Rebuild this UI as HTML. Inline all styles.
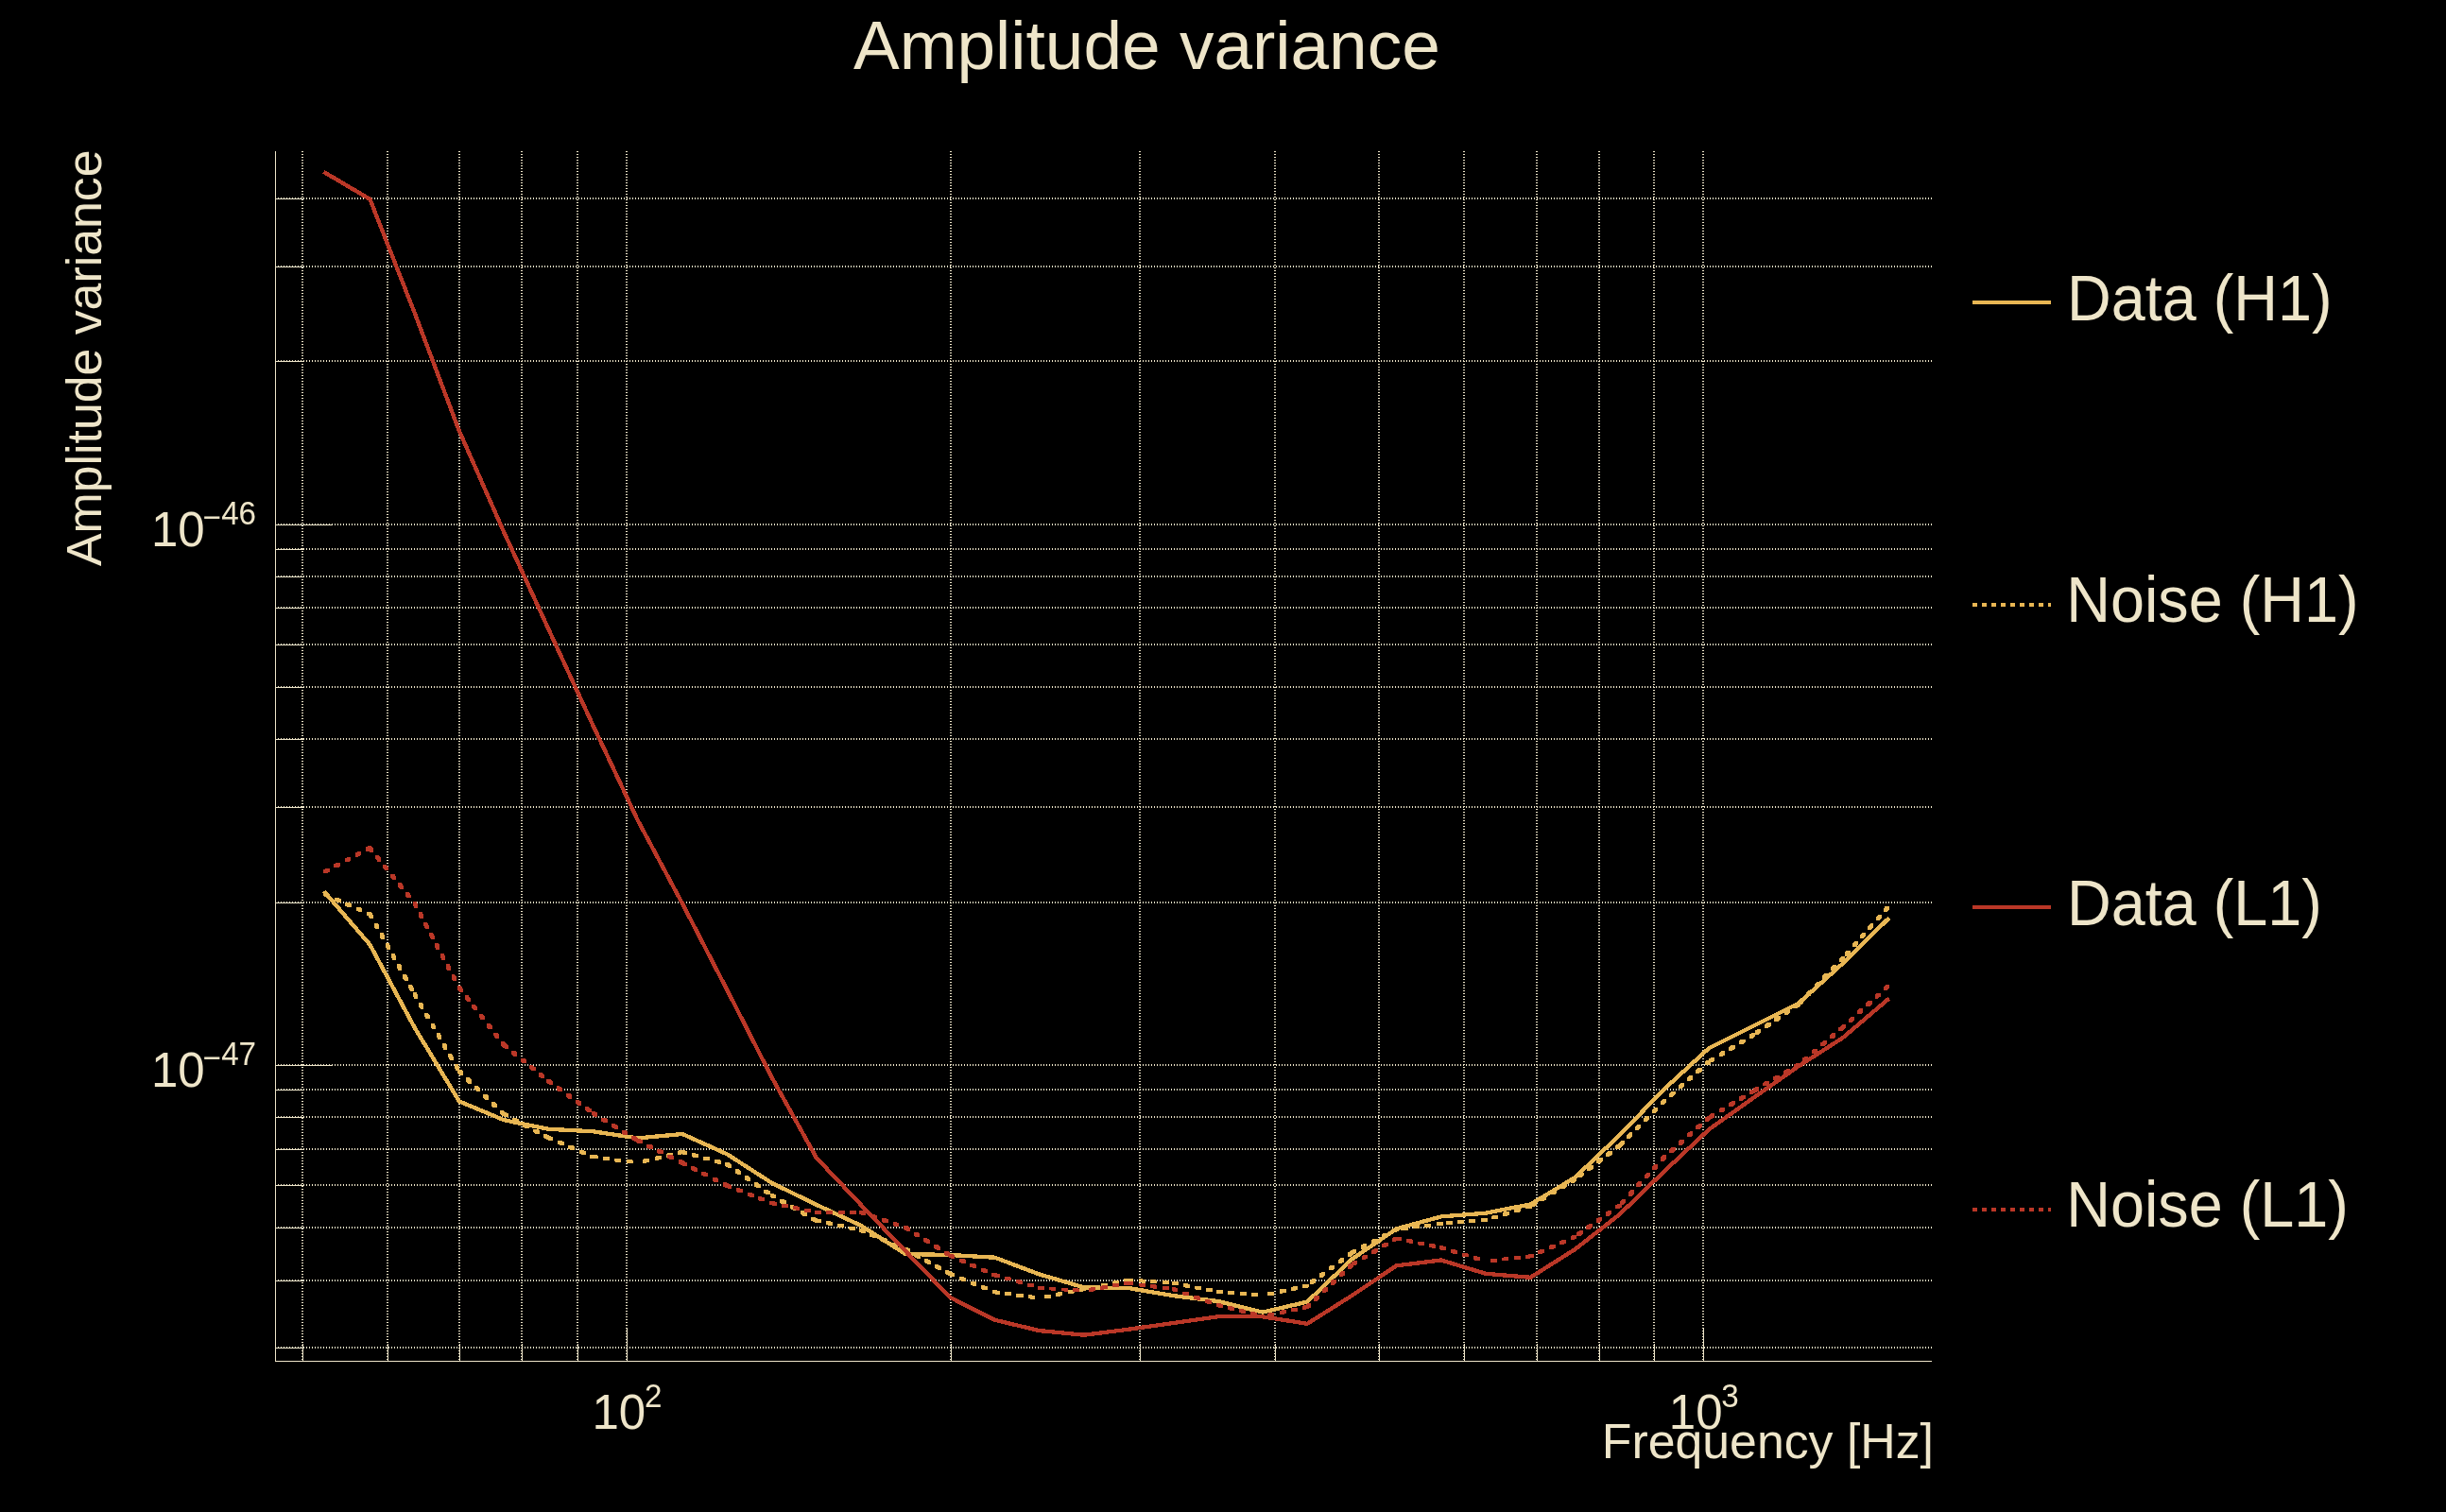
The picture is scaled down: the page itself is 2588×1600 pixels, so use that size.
<!DOCTYPE html>
<html lang="en"><head><meta charset="utf-8"><title>Amplitude variance</title>
<style>
html,body{margin:0;padding:0;background:#000;}
body{width:2588px;height:1600px;overflow:hidden;}
svg{display:block;}
text{font-family:"Liberation Sans",sans-serif;fill:#eee5c9;}
</style></head><body>
<svg width="2588" height="1600" viewBox="0 0 2588 1600">
<rect width="2588" height="1600" fill="#000"/>
<g stroke="#eee5c9" stroke-width="2" stroke-dasharray="1 2" shape-rendering="crispEdges" fill="none">
<line x1="320" y1="160" x2="320" y2="1440"/>
<line x1="410" y1="160" x2="410" y2="1440"/>
<line x1="486" y1="160" x2="486" y2="1440"/>
<line x1="552" y1="160" x2="552" y2="1440"/>
<line x1="611" y1="160" x2="611" y2="1440"/>
<line x1="663" y1="160" x2="663" y2="1440"/>
<line x1="1006" y1="160" x2="1006" y2="1440"/>
<line x1="1206" y1="160" x2="1206" y2="1440"/>
<line x1="1349" y1="160" x2="1349" y2="1440"/>
<line x1="1459" y1="160" x2="1459" y2="1440"/>
<line x1="1549" y1="160" x2="1549" y2="1440"/>
<line x1="1626" y1="160" x2="1626" y2="1440"/>
<line x1="1692" y1="160" x2="1692" y2="1440"/>
<line x1="1750" y1="160" x2="1750" y2="1440"/>
<line x1="1802" y1="160" x2="1802" y2="1440"/>
<line x1="291" y1="210" x2="2044" y2="210"/>
<line x1="291" y1="282" x2="2044" y2="282"/>
<line x1="291" y1="382" x2="2044" y2="382"/>
<line x1="291" y1="555" x2="2044" y2="555"/>
<line x1="291" y1="581" x2="2044" y2="581"/>
<line x1="291" y1="610" x2="2044" y2="610"/>
<line x1="291" y1="643" x2="2044" y2="643"/>
<line x1="291" y1="682" x2="2044" y2="682"/>
<line x1="291" y1="727" x2="2044" y2="727"/>
<line x1="291" y1="782" x2="2044" y2="782"/>
<line x1="291" y1="854" x2="2044" y2="854"/>
<line x1="291" y1="955" x2="2044" y2="955"/>
<line x1="291" y1="1127" x2="2044" y2="1127"/>
<line x1="291" y1="1153" x2="2044" y2="1153"/>
<line x1="291" y1="1182" x2="2044" y2="1182"/>
<line x1="291" y1="1216" x2="2044" y2="1216"/>
<line x1="291" y1="1254" x2="2044" y2="1254"/>
<line x1="291" y1="1299" x2="2044" y2="1299"/>
<line x1="291" y1="1355" x2="2044" y2="1355"/>
<line x1="291" y1="1426" x2="2044" y2="1426"/>
</g>
<g stroke="#eee5c9" stroke-width="1" shape-rendering="crispEdges" fill="none">
<line x1="291.5" y1="160" x2="291.5" y2="1441"/>
<line x1="291" y1="1440.5" x2="2044" y2="1440.5"/>
<line x1="320.5" y1="1422" x2="320.5" y2="1440"/>
<line x1="410.5" y1="1422" x2="410.5" y2="1440"/>
<line x1="486.5" y1="1422" x2="486.5" y2="1440"/>
<line x1="552.5" y1="1422" x2="552.5" y2="1440"/>
<line x1="611.5" y1="1422" x2="611.5" y2="1440"/>
<line x1="663.5" y1="1405" x2="663.5" y2="1440"/>
<line x1="1006.5" y1="1422" x2="1006.5" y2="1440"/>
<line x1="1206.5" y1="1422" x2="1206.5" y2="1440"/>
<line x1="1349.5" y1="1422" x2="1349.5" y2="1440"/>
<line x1="1459.5" y1="1422" x2="1459.5" y2="1440"/>
<line x1="1549.5" y1="1422" x2="1549.5" y2="1440"/>
<line x1="1626.5" y1="1422" x2="1626.5" y2="1440"/>
<line x1="1692.5" y1="1422" x2="1692.5" y2="1440"/>
<line x1="1750.5" y1="1422" x2="1750.5" y2="1440"/>
<line x1="1802.5" y1="1405" x2="1802.5" y2="1440"/>
<line x1="291" y1="210.5" x2="321" y2="210.5"/>
<line x1="291" y1="282.5" x2="321" y2="282.5"/>
<line x1="291" y1="382.5" x2="321" y2="382.5"/>
<line x1="291" y1="555.5" x2="352" y2="555.5"/>
<line x1="291" y1="581.5" x2="321" y2="581.5"/>
<line x1="291" y1="610.5" x2="321" y2="610.5"/>
<line x1="291" y1="643.5" x2="321" y2="643.5"/>
<line x1="291" y1="682.5" x2="321" y2="682.5"/>
<line x1="291" y1="727.5" x2="321" y2="727.5"/>
<line x1="291" y1="782.5" x2="321" y2="782.5"/>
<line x1="291" y1="854.5" x2="321" y2="854.5"/>
<line x1="291" y1="955.5" x2="321" y2="955.5"/>
<line x1="291" y1="1127.5" x2="352" y2="1127.5"/>
<line x1="291" y1="1153.5" x2="321" y2="1153.5"/>
<line x1="291" y1="1182.5" x2="321" y2="1182.5"/>
<line x1="291" y1="1216.5" x2="321" y2="1216.5"/>
<line x1="291" y1="1254.5" x2="321" y2="1254.5"/>
<line x1="291" y1="1299.5" x2="321" y2="1299.5"/>
<line x1="291" y1="1355.5" x2="321" y2="1355.5"/>
<line x1="291" y1="1426.5" x2="321" y2="1426.5"/>
</g>
<g shape-rendering="crispEdges">
<path fill="none" stroke-width="4.3" stroke-linejoin="round" stroke-linecap="square" stroke="#e8b653" d="M344.2 944.8L391.43 999.7L438.65 1087.4L485.88 1165.4L533.1 1185.2L580.33 1194.8L627.55 1197.3L674.77 1204.4L722 1200L769.23 1221.3L816.45 1251.7L863.67 1274.8L910.9 1296.9L958.12 1327L1005.35 1328L1052.58 1330.7L1099.8 1348.5L1147.03 1362.4L1194.25 1363.1L1241.47 1371.1L1288.7 1377L1335.92 1388.6L1383.15 1377.6L1430.38 1332.5L1477.6 1300.3L1524.83 1287.4L1572.05 1283.7L1619.28 1274.4L1666.5 1246L1713.73 1201L1760.95 1152.4L1808.18 1109.1L1855.4 1085.6L1902.62 1062L1949.85 1019.4L1997.08 973"/>
<path fill="#e8b653" d="M342.3 944.6L346.1 944.6L349.12 945.94L349.12 949.74L345.32 949.74L342.3 948.4ZM353.72 949.68L357.52 949.68L360.54 951.02L360.54 954.82L356.74 954.82L353.72 953.48ZM365.14 954.76L368.94 954.76L371.96 956.1L371.96 959.9L368.16 959.9L365.14 958.56ZM376.56 959.84L380.36 959.84L383.38 961.18L383.38 964.98L379.58 964.98L376.56 963.64ZM387.99 964.92L391.79 964.92L393.32 965.6L393.32 969.4L389.53 969.4L387.99 968.72ZM389.53 965.6L393.32 965.6L394.93 968.48L394.93 972.28L391.13 972.28L389.53 969.4ZM395.62 976.51L399.42 976.51L401.03 979.39L401.03 983.19L397.23 983.19L395.62 980.31ZM401.72 987.42L405.52 987.42L407.13 990.3L407.13 994.1L403.33 994.1L401.72 991.22ZM407.82 998.33L411.62 998.33L413.23 1001.22L413.23 1005.02L409.43 1005.02L407.82 1002.13ZM413.92 1009.25L417.72 1009.25L419.33 1012.13L419.33 1015.93L415.53 1015.93L413.92 1013.05ZM420.02 1020.16L423.82 1020.16L425.43 1023.04L425.43 1026.84L421.63 1026.84L420.02 1023.96ZM426.11 1031.07L429.91 1031.07L431.52 1033.95L431.52 1037.75L427.72 1037.75L426.11 1034.87ZM432.21 1041.98L436.01 1041.98L437.62 1044.86L437.62 1048.66L433.82 1048.66L432.21 1045.78ZM436.75 1050.1L440.55 1050.1L442.2 1052.96L442.2 1056.76L438.4 1056.76L436.75 1053.9ZM443.01 1060.92L446.81 1060.92L448.46 1063.78L448.46 1067.58L444.66 1067.58L443.01 1064.72ZM449.26 1071.74L453.06 1071.74L454.71 1074.6L454.71 1078.4L450.91 1078.4L449.26 1075.54ZM455.52 1082.57L459.32 1082.57L460.97 1085.42L460.97 1089.22L457.17 1089.22L455.52 1086.37ZM461.77 1093.39L465.57 1093.39L467.22 1096.25L467.22 1100.05L463.42 1100.05L461.77 1097.19ZM468.03 1104.21L471.83 1104.21L473.48 1107.07L473.48 1110.87L469.68 1110.87L468.03 1108.01ZM474.28 1115.03L478.08 1115.03L479.73 1117.89L479.73 1121.69L475.93 1121.69L474.28 1118.83ZM480.54 1125.85L484.34 1125.85L485.99 1128.71L485.99 1132.51L482.19 1132.51L480.54 1129.65ZM483.98 1131.8L487.77 1131.8L490.16 1134.08L490.16 1137.88L486.36 1137.88L483.98 1135.6ZM493.01 1140.44L496.81 1140.44L499.19 1142.72L499.19 1146.52L495.39 1146.52L493.01 1144.24ZM502.04 1149.09L505.84 1149.09L508.22 1151.37L508.22 1155.17L504.42 1155.17L502.04 1152.89ZM511.07 1157.73L514.87 1157.73L517.25 1160.01L517.25 1163.81L513.45 1163.81L511.07 1161.53ZM520.1 1166.37L523.9 1166.37L526.28 1168.65L526.28 1172.45L522.48 1172.45L520.1 1170.17ZM529.13 1175.02L532.93 1175.02L535 1177L535 1180.8L531.2 1180.8L529.13 1178.82ZM531.2 1177L535 1177L537.91 1178.55L537.91 1182.35L534.11 1182.35L531.2 1180.8ZM542.24 1182.87L546.04 1182.87L548.95 1184.42L548.95 1188.22L545.15 1188.22L542.24 1186.67ZM553.28 1188.73L557.08 1188.73L559.99 1190.28L559.99 1194.08L556.19 1194.08L553.28 1192.53ZM564.31 1194.6L568.11 1194.6L571.03 1196.15L571.03 1199.95L567.23 1199.95L564.31 1198.4ZM575.35 1200.47L579.15 1200.47L582.07 1202.02L582.07 1205.82L578.27 1205.82L575.35 1204.27ZM578.43 1202.1L582.23 1202.1L585.26 1203.39L585.26 1207.19L581.46 1207.19L578.43 1205.9ZM589.93 1207L593.73 1207L596.76 1208.29L596.76 1212.09L592.96 1212.09L589.93 1210.8ZM601.43 1211.89L605.23 1211.89L608.26 1213.18L608.26 1216.98L604.46 1216.98L601.43 1215.69ZM612.93 1216.79L616.73 1216.79L619.77 1218.08L619.77 1221.88L615.97 1221.88L612.93 1220.59ZM624.43 1221.68L628.23 1221.68L629.45 1222.2L629.45 1226L625.65 1226L624.43 1225.48ZM625.65 1222.2L629.45 1222.2L632.72 1222.64L632.72 1226.44L628.92 1226.44L625.65 1226ZM638.04 1223.88L641.84 1223.88L645.11 1224.32L645.11 1228.12L641.31 1228.12L638.04 1227.68ZM650.42 1225.56L654.22 1225.56L657.49 1226L657.49 1229.8L653.69 1229.8L650.42 1229.36ZM662.81 1227.24L666.61 1227.24L669.88 1227.68L669.88 1231.48L666.08 1231.48L662.81 1231.04ZM716.89 1217.88L720.1 1217.1L723.9 1217.1L723.9 1220.9L720.69 1221.68L716.89 1221.68ZM704.75 1220.84L707.95 1220.06L711.75 1220.06L711.75 1223.86L708.55 1224.64L704.75 1224.64ZM692.6 1223.8L695.81 1223.02L699.61 1223.02L699.61 1226.82L696.4 1227.6L692.6 1227.6ZM680.46 1226.75L683.66 1225.97L687.46 1225.97L687.46 1229.77L684.26 1230.55L680.46 1230.55ZM720.1 1217.1L723.9 1217.1L727.08 1217.97L727.08 1221.77L723.28 1221.77L720.1 1220.9ZM732.16 1220.39L735.96 1220.39L739.14 1221.26L739.14 1225.06L735.34 1225.06L732.16 1224.19ZM744.22 1223.69L748.02 1223.69L751.2 1224.56L751.2 1228.36L747.4 1228.36L744.22 1227.49ZM756.27 1226.98L760.07 1226.98L763.26 1227.85L763.26 1231.65L759.46 1231.65L756.27 1230.78ZM767.33 1230L771.12 1230L773.83 1231.89L773.83 1235.69L770.03 1235.69L767.33 1233.8ZM777.57 1237.16L781.37 1237.16L784.08 1239.05L784.08 1242.85L780.28 1242.85L777.57 1240.96ZM787.82 1244.32L791.62 1244.32L794.32 1246.21L794.32 1250.01L790.52 1250.01L787.82 1248.12ZM798.06 1251.48L801.86 1251.48L804.57 1253.37L804.57 1257.17L800.77 1257.17L798.06 1255.28ZM808.31 1258.64L812.11 1258.64L814.82 1260.53L814.82 1264.33L811.02 1264.33L808.31 1262.44ZM814.55 1263L818.35 1263L821.22 1264.62L821.22 1268.42L817.42 1268.42L814.55 1266.8ZM825.43 1269.15L829.23 1269.15L832.1 1270.78L832.1 1274.58L828.3 1274.58L825.43 1272.95ZM836.31 1275.3L840.11 1275.3L842.99 1276.93L842.99 1280.73L839.19 1280.73L836.31 1279.1ZM847.19 1281.46L850.99 1281.46L853.87 1283.08L853.87 1286.88L850.07 1286.88L847.19 1285.26ZM858.08 1287.61L861.88 1287.61L864.75 1289.23L864.75 1293.03L860.95 1293.03L858.08 1291.41ZM861.77 1289.7L865.57 1289.7L868.8 1290.39L868.8 1294.19L865 1294.19L861.77 1293.5ZM874 1292.31L877.8 1292.31L881.03 1293L881.03 1296.8L877.23 1296.8L874 1296.11ZM886.22 1294.93L890.02 1294.93L893.25 1295.62L893.25 1299.42L889.45 1299.42L886.22 1298.73ZM898.45 1297.54L902.25 1297.54L905.47 1298.23L905.47 1302.03L901.67 1302.03L898.45 1301.34ZM909 1299.8L912.8 1299.8L915.83 1301.1L915.83 1304.9L912.03 1304.9L909 1303.6ZM920.48 1304.74L924.28 1304.74L927.32 1306.04L927.32 1309.84L923.52 1309.84L920.48 1308.54ZM931.97 1309.67L935.77 1309.67L938.8 1310.98L938.8 1314.78L935 1314.78L931.97 1313.47ZM943.45 1314.61L947.25 1314.61L950.28 1315.91L950.28 1319.71L946.48 1319.71L943.45 1318.41ZM954.94 1319.55L958.74 1319.55L960.02 1320.1L960.02 1323.9L956.23 1323.9L954.94 1323.35ZM956.23 1320.1L960.02 1320.1L962.91 1321.7L962.91 1325.5L959.11 1325.5L956.23 1323.9ZM967.17 1326.15L970.97 1326.15L973.85 1327.74L973.85 1331.54L970.05 1331.54L967.17 1329.95ZM978.11 1332.19L981.91 1332.19L984.79 1333.79L984.79 1337.59L980.99 1337.59L978.11 1335.99ZM989.05 1338.24L992.85 1338.24L995.73 1339.84L995.73 1343.64L991.93 1343.64L989.05 1342.04ZM999.99 1344.29L1003.79 1344.29L1006.67 1345.88L1006.67 1349.68L1002.87 1349.68L999.99 1348.09ZM1003.45 1346.2L1007.25 1346.2L1010.31 1347.44L1010.31 1351.24L1006.51 1351.24L1003.45 1350ZM1015.03 1350.91L1018.83 1350.91L1021.89 1352.15L1021.89 1355.95L1018.09 1355.95L1015.03 1354.71ZM1026.61 1355.62L1030.41 1355.62L1033.47 1356.86L1033.47 1360.66L1029.67 1360.66L1026.61 1359.42ZM1038.19 1360.32L1041.99 1360.32L1045.05 1361.57L1045.05 1365.37L1041.25 1365.37L1038.19 1364.12ZM1049.77 1365.03L1053.57 1365.03L1054.48 1365.4L1054.48 1369.2L1050.67 1369.2L1049.77 1368.83ZM1050.67 1365.4L1054.48 1365.4L1057.75 1365.84L1057.75 1369.64L1053.95 1369.64L1050.67 1369.2ZM1063.06 1367.08L1066.86 1367.08L1070.13 1367.52L1070.13 1371.32L1066.33 1371.32L1063.06 1370.88ZM1075.45 1368.76L1079.25 1368.76L1082.52 1369.2L1082.52 1373L1078.72 1373L1075.45 1372.56ZM1087.84 1370.44L1091.64 1370.44L1094.91 1370.88L1094.91 1374.68L1091.11 1374.68L1087.84 1374.24ZM1141.89 1362.76L1145.12 1362.1L1148.93 1362.1L1148.93 1365.9L1145.69 1366.56L1141.89 1366.56ZM1129.65 1365.28L1132.88 1364.61L1136.68 1364.61L1136.68 1368.41L1133.45 1369.08L1129.65 1369.08ZM1117.4 1367.79L1120.64 1367.13L1124.44 1367.13L1124.44 1370.93L1121.2 1371.59L1117.4 1371.59ZM1105.16 1370.31L1108.39 1369.64L1112.19 1369.64L1112.19 1373.44L1108.96 1374.11L1105.16 1374.11ZM1189.11 1353.25L1192.35 1352.6L1196.15 1352.6L1196.15 1356.4L1192.91 1357.05L1189.11 1357.05ZM1176.86 1355.72L1180.1 1355.07L1183.9 1355.07L1183.9 1358.87L1180.66 1359.52L1176.86 1359.52ZM1164.61 1358.18L1167.84 1357.53L1171.64 1357.53L1171.64 1361.33L1168.41 1361.98L1164.61 1361.98ZM1152.35 1360.65L1155.59 1360L1159.39 1360L1159.39 1363.8L1156.15 1364.45L1152.35 1364.45ZM1192.35 1352.6L1196.15 1352.6L1199.44 1352.83L1199.44 1356.63L1195.64 1356.63L1192.35 1356.4ZM1204.82 1353.47L1208.62 1353.47L1211.91 1353.7L1211.91 1357.5L1208.11 1357.5L1204.82 1357.27ZM1217.29 1354.34L1221.09 1354.34L1224.38 1354.57L1224.38 1358.37L1220.58 1358.37L1217.29 1358.14ZM1229.76 1355.21L1233.56 1355.21L1236.85 1355.44L1236.85 1359.24L1233.05 1359.24L1229.76 1359.01ZM1239.57 1355.9L1243.38 1355.9L1246.62 1356.52L1246.62 1360.32L1242.82 1360.32L1239.57 1359.7ZM1251.85 1358.24L1255.65 1358.24L1258.9 1358.86L1258.9 1362.66L1255.1 1362.66L1251.85 1362.04ZM1264.13 1360.58L1267.93 1360.58L1271.17 1361.2L1271.17 1365L1267.37 1365L1264.13 1364.38ZM1276.41 1362.92L1280.21 1362.92L1283.45 1363.54L1283.45 1367.34L1279.65 1367.34L1276.41 1366.72ZM1286.8 1364.9L1290.6 1364.9L1293.89 1365.19L1293.89 1368.99L1290.09 1368.99L1286.8 1368.7ZM1299.25 1366.01L1303.05 1366.01L1306.34 1366.3L1306.34 1370.1L1302.54 1370.1L1299.25 1369.81ZM1311.7 1367.11L1315.5 1367.11L1318.79 1367.41L1318.79 1371.21L1314.99 1371.21L1311.7 1370.91ZM1324.15 1368.22L1327.95 1368.22L1331.24 1368.51L1331.24 1372.31L1327.44 1372.31L1324.15 1372.02ZM1378.03 1359.22L1381.25 1358.5L1385.05 1358.5L1385.05 1362.3L1381.83 1363.02L1378.03 1363.02ZM1365.83 1361.96L1369.05 1361.24L1372.85 1361.24L1372.85 1365.04L1369.63 1365.76L1365.83 1365.76ZM1353.64 1364.7L1356.86 1363.98L1360.66 1363.98L1360.66 1367.78L1357.44 1368.5L1353.64 1368.5ZM1341.44 1367.44L1344.66 1366.71L1348.46 1366.71L1348.46 1370.51L1345.24 1371.24L1341.44 1371.24ZM1425.82 1325.75L1428.47 1323.8L1432.28 1323.8L1432.28 1327.6L1429.62 1329.55L1425.82 1329.55ZM1415.74 1333.16L1418.4 1331.2L1422.2 1331.2L1422.2 1335L1419.54 1336.96L1415.74 1336.96ZM1405.67 1340.56L1408.33 1338.6L1412.13 1338.6L1412.13 1342.4L1409.47 1344.36L1405.67 1344.36ZM1395.6 1347.96L1398.26 1346L1402.06 1346L1402.06 1349.8L1399.4 1351.76L1395.6 1351.76ZM1385.52 1355.36L1388.18 1353.41L1391.98 1353.41L1391.98 1357.21L1389.32 1359.16L1385.52 1359.16ZM1472.78 1300.63L1475.7 1299.1L1479.5 1299.1L1479.5 1302.9L1476.58 1304.43L1472.78 1304.43ZM1461.7 1306.42L1464.62 1304.89L1468.42 1304.89L1468.42 1308.69L1465.5 1310.22L1461.7 1310.22ZM1450.62 1312.22L1453.55 1310.69L1457.35 1310.69L1457.35 1314.49L1454.42 1316.02L1450.62 1316.02ZM1439.55 1318.01L1442.47 1316.48L1446.27 1316.48L1446.27 1320.28L1443.35 1321.81L1439.55 1321.81ZM1428.47 1323.8L1431.39 1322.27L1435.19 1322.27L1435.19 1326.07L1432.28 1327.6L1428.47 1327.6ZM1519.65 1293.52L1522.92 1293.1L1526.73 1293.1L1526.73 1296.9L1523.45 1297.32L1519.65 1297.32ZM1507.25 1295.09L1510.52 1294.68L1514.32 1294.68L1514.32 1298.48L1511.05 1298.89L1507.25 1298.89ZM1494.85 1296.67L1498.12 1296.25L1501.92 1296.25L1501.92 1300.05L1498.65 1300.47L1494.85 1300.47ZM1482.45 1298.24L1485.72 1297.83L1489.52 1297.83L1489.52 1301.63L1486.25 1302.04L1482.45 1302.04ZM1566.86 1289.38L1570.15 1289.1L1573.95 1289.1L1573.95 1292.9L1570.66 1293.18L1566.86 1293.18ZM1554.41 1290.43L1557.69 1290.15L1561.49 1290.15L1561.49 1293.95L1558.21 1294.23L1554.41 1294.23ZM1541.95 1291.49L1545.24 1291.21L1549.04 1291.21L1549.04 1295.01L1545.75 1295.29L1541.95 1295.29ZM1529.5 1292.54L1532.78 1292.26L1536.58 1292.26L1536.58 1296.06L1533.3 1296.34L1529.5 1296.34ZM1614.22 1275.47L1617.38 1274.5L1621.18 1274.5L1621.18 1278.3L1618.02 1279.27L1614.22 1279.27ZM1602.28 1279.17L1605.43 1278.19L1609.23 1278.19L1609.23 1281.99L1606.08 1282.97L1602.28 1282.97ZM1590.34 1282.86L1593.49 1281.88L1597.29 1281.88L1597.29 1285.68L1594.14 1286.66L1590.34 1286.66ZM1578.4 1286.55L1581.55 1285.58L1585.35 1285.58L1585.35 1289.38L1582.2 1290.35L1578.4 1290.35ZM1661.77 1247.8L1664.6 1246.1L1668.4 1246.1L1668.4 1249.9L1665.57 1251.6L1661.77 1251.6ZM1651.06 1254.24L1653.89 1252.54L1657.69 1252.54L1657.69 1256.34L1654.86 1258.04L1651.06 1258.04ZM1640.35 1260.68L1643.18 1258.98L1646.98 1258.98L1646.98 1262.78L1644.15 1264.48L1640.35 1264.48ZM1629.64 1267.13L1632.46 1265.43L1636.26 1265.43L1636.26 1269.23L1633.44 1270.93L1629.64 1270.93ZM1618.92 1273.57L1621.75 1271.87L1625.55 1271.87L1625.55 1275.67L1622.72 1277.37L1618.92 1277.37ZM1709.2 1212.29L1711.83 1210.3L1715.63 1210.3L1715.63 1214.1L1713 1216.09L1709.2 1216.09ZM1699.23 1219.84L1701.86 1217.85L1705.66 1217.85L1705.66 1221.65L1703.03 1223.64L1699.23 1223.64ZM1689.27 1227.4L1691.9 1225.4L1695.7 1225.4L1695.7 1229.2L1693.07 1231.2L1689.27 1231.2ZM1679.31 1234.95L1681.94 1232.95L1685.74 1232.95L1685.74 1236.75L1683.11 1238.75L1679.31 1238.75ZM1669.35 1242.5L1671.98 1240.51L1675.78 1240.51L1675.78 1244.31L1673.15 1246.3L1669.35 1246.3ZM1756.72 1165.43L1759.05 1163.1L1762.85 1163.1L1762.85 1166.9L1760.52 1169.23L1756.72 1169.23ZM1747.87 1174.27L1750.21 1171.94L1754.01 1171.94L1754.01 1175.74L1751.67 1178.07L1747.87 1178.07ZM1739.03 1183.11L1741.37 1180.77L1745.17 1180.77L1745.17 1184.57L1742.83 1186.91L1739.03 1186.91ZM1730.19 1191.94L1732.53 1189.61L1736.33 1189.61L1736.33 1193.41L1733.99 1195.74L1730.19 1195.74ZM1721.35 1200.78L1723.69 1198.45L1727.49 1198.45L1727.49 1202.25L1725.15 1204.58L1721.35 1204.58ZM1712.51 1209.62L1714.84 1207.28L1718.64 1207.28L1718.64 1211.08L1716.31 1213.42L1712.51 1213.42ZM1803.8 1123.68L1806.28 1121.5L1810.08 1121.5L1810.08 1125.3L1807.6 1127.48L1803.8 1127.48ZM1794.42 1131.94L1796.9 1129.76L1800.7 1129.76L1800.7 1133.56L1798.22 1135.74L1794.42 1135.74ZM1785.04 1140.21L1787.52 1138.03L1791.32 1138.03L1791.32 1141.83L1788.84 1144.01L1785.04 1144.01ZM1775.66 1148.47L1778.14 1146.29L1781.94 1146.29L1781.94 1150.09L1779.46 1152.27L1775.66 1152.27ZM1766.28 1156.73L1768.76 1154.55L1772.56 1154.55L1772.56 1158.35L1770.08 1160.53L1766.28 1160.53ZM1759.05 1163.1L1759.38 1162.81L1763.18 1162.81L1763.18 1166.61L1762.85 1166.9L1759.05 1166.9ZM1850.67 1094.9L1853.5 1093.2L1857.3 1093.2L1857.3 1097L1854.47 1098.7L1850.67 1098.7ZM1839.95 1101.32L1842.78 1099.63L1846.58 1099.63L1846.58 1103.43L1843.75 1105.12L1839.95 1105.12ZM1829.23 1107.75L1832.06 1106.05L1835.86 1106.05L1835.86 1109.85L1833.03 1111.55L1829.23 1111.55ZM1818.5 1114.17L1821.33 1112.48L1825.13 1112.48L1825.13 1116.28L1822.3 1117.97L1818.5 1117.97ZM1807.78 1120.6L1810.61 1118.9L1814.41 1118.9L1814.41 1122.7L1811.58 1124.4L1807.78 1124.4ZM1898 1062.96L1900.72 1061.1L1904.53 1061.1L1904.53 1064.9L1901.8 1066.76L1898 1066.76ZM1887.66 1069.98L1890.39 1068.13L1894.19 1068.13L1894.19 1071.93L1891.46 1073.78L1887.66 1073.78ZM1877.32 1077.01L1880.05 1075.15L1883.85 1075.15L1883.85 1078.95L1881.12 1080.81L1877.32 1080.81ZM1866.98 1084.04L1869.71 1082.18L1873.51 1082.18L1873.51 1085.98L1870.78 1087.84L1866.98 1087.84ZM1856.64 1091.06L1859.37 1089.21L1863.17 1089.21L1863.17 1093.01L1860.44 1094.86L1856.64 1094.86ZM1945.66 1014.57L1947.95 1012.2L1951.75 1012.2L1951.75 1016L1949.46 1018.37L1945.66 1018.37ZM1936.97 1023.57L1939.27 1021.19L1943.07 1021.19L1943.07 1024.99L1940.77 1027.37L1936.97 1027.37ZM1928.29 1032.56L1930.58 1030.18L1934.38 1030.18L1934.38 1033.98L1932.09 1036.36L1928.29 1036.36ZM1919.61 1041.55L1921.9 1039.17L1925.7 1039.17L1925.7 1042.97L1923.41 1045.35L1919.61 1045.35ZM1910.92 1050.54L1913.22 1048.17L1917.02 1048.17L1917.02 1051.97L1914.72 1054.34L1910.92 1054.34ZM1902.24 1059.53L1904.53 1057.16L1908.33 1057.16L1908.33 1060.96L1906.04 1063.33L1902.24 1063.33ZM1992.99 961.17L1995.17 958.7L1998.98 958.7L1998.98 962.5L1996.79 964.97L1992.99 964.97ZM1984.72 970.55L1986.9 968.07L1990.7 968.07L1990.7 971.87L1988.52 974.35L1984.72 974.35ZM1976.45 979.92L1978.63 977.44L1982.43 977.44L1982.43 981.24L1980.25 983.72L1976.45 983.72ZM1968.17 989.29L1970.36 986.81L1974.16 986.81L1974.16 990.61L1971.97 993.09L1968.17 993.09ZM1959.9 998.66L1962.09 996.19L1965.89 996.19L1965.89 999.99L1963.7 1002.46L1959.9 1002.46ZM1951.63 1008.03L1953.81 1005.56L1957.61 1005.56L1957.61 1009.36L1955.43 1011.83L1951.63 1011.83Z"/>
<path fill="none" stroke-width="4.3" stroke-linejoin="round" stroke-linecap="square" stroke="#ba3727" d="M344.2 182.9L391.43 210.8L438.65 331L485.88 456L533.1 562.9L580.33 665.7L627.55 767.8L674.77 868L722 956.2L769.23 1047.4L816.45 1139.8L863.67 1225L910.9 1274.9L958.12 1324L1005.35 1373L1052.58 1396.8L1099.8 1408.1L1147.03 1412.7L1194.25 1406.7L1241.47 1400L1288.7 1393.3L1335.92 1393.3L1383.15 1400.8L1430.38 1371L1477.6 1339.3L1524.83 1333.5L1572.05 1347.8L1619.28 1351.8L1666.5 1322L1713.73 1285L1760.95 1239.4L1808.18 1195.2L1855.4 1161.6L1902.62 1128.5L1949.85 1098.1L1997.08 1058"/>
<path fill="#ba3727" d="M386.61 896.94L389.53 895.4L393.32 895.4L393.32 899.2L390.41 900.74L386.61 900.74ZM375.56 902.79L378.48 901.25L382.28 901.25L382.28 905.05L379.36 906.59L375.56 906.59ZM364.51 908.64L367.43 907.1L371.23 907.1L371.23 910.9L368.31 912.44L364.51 912.44ZM353.47 914.49L356.38 912.94L360.18 912.94L360.18 916.74L357.27 918.29L353.47 918.29ZM342.42 920.34L345.34 918.79L349.14 918.79L349.14 922.59L346.22 924.14L342.42 924.14ZM389.53 895.4L393.32 895.4L395.39 897.97L395.39 901.77L391.59 901.77L389.53 899.2ZM397.36 905.14L401.16 905.14L403.23 907.71L403.23 911.51L399.43 911.51L397.36 908.94ZM405.2 914.88L409 914.88L411.06 917.45L411.06 921.25L407.26 921.25L405.2 918.68ZM413.03 924.62L416.83 924.62L418.9 927.19L418.9 930.99L415.1 930.99L413.03 928.42ZM420.87 934.36L424.67 934.36L426.74 936.93L426.74 940.73L422.94 940.73L420.87 938.16ZM428.7 944.1L432.5 944.1L434.57 946.67L434.57 950.47L430.77 950.47L428.7 947.9ZM436.54 953.84L440.34 953.84L440.55 954.1L440.55 957.9L436.75 957.9L436.54 957.64ZM436.75 954.1L440.55 954.1L442.09 957.02L442.09 960.82L438.29 960.82L436.75 957.9ZM442.59 965.15L446.39 965.15L447.94 968.07L447.94 971.87L444.14 971.87L442.59 968.95ZM448.44 976.2L452.24 976.2L453.78 979.12L453.78 982.92L449.98 982.92L448.44 980ZM454.28 987.25L458.08 987.25L459.62 990.17L459.62 993.97L455.82 993.97L454.28 991.05ZM460.12 998.3L463.92 998.3L465.47 1001.22L465.47 1005.02L461.67 1005.02L460.12 1002.1ZM465.97 1009.35L469.77 1009.35L471.31 1012.27L471.31 1016.07L467.51 1016.07L465.97 1013.15ZM471.81 1020.4L475.61 1020.4L477.15 1023.32L477.15 1027.12L473.35 1027.12L471.81 1024.2ZM477.66 1031.45L481.46 1031.45L483 1034.37L483 1038.17L479.2 1038.17L477.66 1035.25ZM483.5 1042.5L487.3 1042.5L487.77 1043.4L487.77 1047.2L483.98 1047.2L483.5 1046.3ZM483.98 1043.4L487.77 1043.4L489.81 1046L489.81 1049.8L486.01 1049.8L483.98 1047.2ZM491.67 1053.25L495.47 1053.25L497.51 1055.85L497.51 1059.65L493.71 1059.65L491.67 1057.05ZM499.37 1063.09L503.17 1063.09L505.21 1065.69L505.21 1069.49L501.41 1069.49L499.37 1066.89ZM507.07 1072.94L510.87 1072.94L512.91 1075.54L512.91 1079.34L509.11 1079.34L507.07 1076.74ZM514.77 1082.79L518.57 1082.79L520.61 1085.39L520.61 1089.19L516.81 1089.19L514.77 1086.59ZM522.47 1092.64L526.27 1092.64L528.3 1095.24L528.3 1099.04L524.5 1099.04L522.47 1096.44ZM530.17 1102.48L533.97 1102.48L535 1103.8L535 1107.6L531.2 1107.6L530.17 1106.28ZM531.2 1103.8L535 1103.8L537.56 1105.88L537.56 1109.68L533.76 1109.68L531.2 1107.6ZM540.9 1111.69L544.7 1111.69L547.26 1113.77L547.26 1117.57L543.46 1117.57L540.9 1115.49ZM550.6 1119.57L554.4 1119.57L556.96 1121.65L556.96 1125.45L553.16 1125.45L550.6 1123.37ZM560.3 1127.46L564.1 1127.46L566.66 1129.54L566.66 1133.34L562.86 1133.34L560.3 1131.26ZM569.99 1135.34L573.79 1135.34L576.35 1137.43L576.35 1141.23L572.55 1141.23L569.99 1139.14ZM578.43 1142.2L582.23 1142.2L584.91 1144.12L584.91 1147.92L581.11 1147.92L578.43 1146ZM588.58 1149.49L592.38 1149.49L595.06 1151.41L595.06 1155.21L591.26 1155.21L588.58 1153.29ZM598.73 1156.78L602.53 1156.78L605.21 1158.7L605.21 1162.5L601.41 1162.5L598.73 1160.58ZM608.89 1164.07L612.69 1164.07L615.37 1165.99L615.37 1169.79L611.57 1169.79L608.89 1167.87ZM619.04 1171.36L622.84 1171.36L625.52 1173.28L625.52 1177.08L621.72 1177.08L619.04 1175.16ZM625.65 1176.1L629.45 1176.1L632.26 1177.82L632.26 1181.62L628.46 1181.62L625.65 1179.9ZM636.31 1182.62L640.11 1182.62L642.93 1184.35L642.93 1188.15L639.13 1188.15L636.31 1186.42ZM646.97 1189.15L650.77 1189.15L653.59 1190.87L653.59 1194.67L649.79 1194.67L646.97 1192.95ZM657.64 1195.67L661.44 1195.67L664.25 1197.4L664.25 1201.2L660.45 1201.2L657.64 1199.47ZM668.3 1202.2L672.1 1202.2L674.91 1203.92L674.91 1207.72L671.11 1207.72L668.3 1206ZM672.88 1205L676.67 1205L679.62 1206.48L679.62 1210.28L675.82 1210.28L672.88 1208.8ZM684.05 1210.61L687.85 1210.61L690.8 1212.09L690.8 1215.89L687 1215.89L684.05 1214.41ZM695.22 1216.21L699.02 1216.21L701.97 1217.69L701.97 1221.49L698.17 1221.49L695.22 1220.01ZM706.39 1221.82L710.19 1221.82L713.14 1223.3L713.14 1227.1L709.34 1227.1L706.39 1225.62ZM717.56 1227.43L721.36 1227.43L723.9 1228.7L723.9 1232.5L720.1 1232.5L717.56 1231.23ZM720.1 1228.7L723.9 1228.7L726.84 1230.2L726.84 1234L723.04 1234L720.1 1232.5ZM731.23 1234.38L735.03 1234.38L737.97 1235.88L737.97 1239.68L734.17 1239.68L731.23 1238.18ZM742.37 1240.06L746.17 1240.06L749.11 1241.56L749.11 1245.36L745.31 1245.36L742.37 1243.86ZM753.5 1245.75L757.3 1245.75L760.24 1247.25L760.24 1251.05L756.44 1251.05L753.5 1249.55ZM764.64 1251.43L768.44 1251.43L771.12 1252.8L771.12 1256.6L767.33 1256.6L764.64 1255.23ZM767.33 1252.8L771.12 1252.8L774.2 1253.99L774.2 1257.79L770.4 1257.79L767.33 1256.6ZM778.98 1257.32L782.78 1257.32L785.86 1258.51L785.86 1262.31L782.06 1262.31L778.98 1261.12ZM790.64 1261.83L794.44 1261.83L797.51 1263.03L797.51 1266.83L793.71 1266.83L790.64 1265.63ZM802.29 1266.35L806.09 1266.35L809.17 1267.54L809.17 1271.34L805.37 1271.34L802.29 1270.15ZM813.95 1270.87L817.75 1270.87L818.35 1271.1L818.35 1274.9L814.55 1274.9L813.95 1274.67ZM814.55 1271.1L818.35 1271.1L821.58 1271.77L821.58 1275.57L817.78 1275.57L814.55 1274.9ZM826.79 1273.64L830.59 1273.64L833.82 1274.31L833.82 1278.11L830.02 1278.11L826.79 1277.44ZM839.03 1276.18L842.83 1276.18L846.06 1276.85L846.06 1280.65L842.26 1280.65L839.03 1279.98ZM851.27 1278.72L855.07 1278.72L858.3 1279.39L858.3 1283.19L854.5 1283.19L851.27 1282.52ZM861.77 1280.9L865.57 1280.9L868.87 1280.91L868.87 1284.71L865.07 1284.71L861.77 1284.7ZM874.27 1280.95L878.07 1280.95L881.37 1280.97L881.37 1284.77L877.57 1284.77L874.27 1284.75ZM886.77 1281.01L890.57 1281.01L893.87 1281.02L893.87 1284.82L890.07 1284.82L886.77 1284.81ZM899.27 1281.06L903.07 1281.06L906.37 1281.07L906.37 1284.87L902.57 1284.87L899.27 1284.86ZM909 1281.1L912.8 1281.1L915.93 1282.16L915.93 1285.96L912.13 1285.96L909 1284.9ZM920.84 1285.11L924.64 1285.11L927.76 1286.17L927.76 1289.97L923.96 1289.97L920.84 1288.91ZM932.68 1289.12L936.48 1289.12L939.6 1290.18L939.6 1293.98L935.8 1293.98L932.68 1292.92ZM944.52 1293.13L948.32 1293.13L951.44 1294.19L951.44 1297.99L947.64 1297.99L944.52 1296.93ZM956.23 1297.1L960.02 1297.1L962.82 1298.85L962.82 1302.65L959.02 1302.65L956.23 1300.9ZM966.83 1303.72L970.63 1303.72L973.43 1305.47L973.43 1309.27L969.63 1309.27L966.83 1307.52ZM977.43 1310.34L981.23 1310.34L984.03 1312.09L984.03 1315.89L980.23 1315.89L977.43 1314.14ZM988.03 1316.97L991.83 1316.97L994.63 1318.72L994.63 1322.52L990.83 1322.52L988.03 1320.77ZM998.63 1323.59L1002.43 1323.59L1005.23 1325.34L1005.23 1329.14L1001.43 1329.14L998.63 1327.39ZM1003.45 1326.6L1007.25 1326.6L1010.27 1327.93L1010.27 1331.73L1006.47 1331.73L1003.45 1330.4ZM1014.89 1331.64L1018.69 1331.64L1021.71 1332.97L1021.71 1336.77L1017.91 1336.77L1014.89 1335.44ZM1026.33 1336.68L1030.13 1336.68L1033.15 1338.01L1033.15 1341.81L1029.35 1341.81L1026.33 1340.48ZM1037.77 1341.72L1041.57 1341.72L1044.59 1343.05L1044.59 1346.85L1040.79 1346.85L1037.77 1345.52ZM1049.21 1346.75L1053.01 1346.75L1054.48 1347.4L1054.48 1351.2L1050.67 1351.2L1049.21 1350.55ZM1050.67 1347.4L1054.48 1347.4L1057.65 1348.29L1057.65 1352.09L1053.85 1352.09L1050.67 1351.2ZM1062.71 1350.79L1066.51 1350.79L1069.68 1351.68L1069.68 1355.48L1065.88 1355.48L1062.71 1354.59ZM1074.74 1354.18L1078.54 1354.18L1081.72 1355.07L1081.72 1358.87L1077.92 1358.87L1074.74 1357.98ZM1086.77 1357.57L1090.57 1357.57L1093.75 1358.46L1093.75 1362.26L1089.95 1362.26L1086.77 1361.37ZM1097.9 1360.7L1101.7 1360.7L1104.99 1360.94L1104.99 1364.74L1101.19 1364.74L1097.9 1364.5ZM1110.37 1361.6L1114.17 1361.6L1117.46 1361.83L1117.46 1365.63L1113.66 1365.63L1110.37 1365.4ZM1122.84 1362.5L1126.64 1362.5L1129.93 1362.73L1129.93 1366.53L1126.13 1366.53L1122.84 1366.3ZM1135.3 1363.39L1139.1 1363.39L1142.39 1363.63L1142.39 1367.43L1138.59 1367.43L1135.3 1367.19ZM1189.1 1356.46L1192.35 1355.9L1196.15 1355.9L1196.15 1359.7L1192.9 1360.26L1189.1 1360.26ZM1176.78 1358.6L1180.03 1358.04L1183.83 1358.04L1183.83 1361.84L1180.58 1362.4L1176.78 1362.4ZM1164.47 1360.74L1167.72 1360.18L1171.52 1360.18L1171.52 1363.98L1168.27 1364.54L1164.47 1364.54ZM1152.15 1362.88L1155.4 1362.32L1159.2 1362.32L1159.2 1366.12L1155.95 1366.68L1152.15 1366.68ZM1192.35 1355.9L1196.15 1355.9L1199.42 1356.34L1199.42 1360.14L1195.62 1360.14L1192.35 1359.7ZM1204.74 1357.58L1208.54 1357.58L1211.81 1358.02L1211.81 1361.82L1208.01 1361.82L1204.74 1361.38ZM1217.12 1359.26L1220.92 1359.26L1224.19 1359.7L1224.19 1363.5L1220.39 1363.5L1217.12 1363.06ZM1229.51 1360.94L1233.31 1360.94L1236.58 1361.38L1236.58 1365.18L1232.78 1365.18L1229.51 1364.74ZM1239.57 1362.3L1243.38 1362.3L1246.48 1363.41L1246.48 1367.21L1242.68 1367.21L1239.57 1366.1ZM1251.34 1366.51L1255.14 1366.51L1258.25 1367.62L1258.25 1371.42L1254.45 1371.42L1251.34 1370.31ZM1263.11 1370.72L1266.91 1370.72L1270.02 1371.84L1270.02 1375.64L1266.22 1375.64L1263.11 1374.52ZM1274.88 1374.94L1278.68 1374.94L1281.79 1376.05L1281.79 1379.85L1277.99 1379.85L1274.88 1378.74ZM1286.65 1379.15L1290.45 1379.15L1290.6 1379.2L1290.6 1383L1286.8 1383L1286.65 1382.95ZM1286.8 1379.2L1290.6 1379.2L1293.8 1380.01L1293.8 1383.81L1290 1383.81L1286.8 1383ZM1298.92 1382.25L1302.72 1382.25L1305.92 1383.06L1305.92 1386.86L1302.12 1386.86L1298.92 1386.05ZM1311.04 1385.31L1314.84 1385.31L1318.04 1386.12L1318.04 1389.92L1314.24 1389.92L1311.04 1389.11ZM1323.16 1388.36L1326.96 1388.36L1330.16 1389.17L1330.16 1392.97L1326.36 1392.97L1323.16 1392.16ZM1378.02 1381.78L1381.25 1381.1L1385.05 1381.1L1385.05 1384.9L1381.82 1385.58L1378.02 1385.58ZM1365.79 1384.37L1369.02 1383.69L1372.82 1383.69L1372.82 1387.49L1369.59 1388.17L1365.79 1388.17ZM1353.56 1386.96L1356.79 1386.28L1360.59 1386.28L1360.59 1390.08L1357.36 1390.76L1353.56 1390.76ZM1341.34 1389.55L1344.56 1388.87L1348.36 1388.87L1348.36 1392.67L1345.14 1393.35L1341.34 1393.35ZM1426.08 1338.77L1428.47 1336.5L1432.28 1336.5L1432.28 1340.3L1429.88 1342.57L1426.08 1342.57ZM1416.99 1347.35L1419.39 1345.08L1423.19 1345.08L1423.19 1348.88L1420.79 1351.15L1416.99 1351.15ZM1407.9 1355.93L1410.3 1353.67L1414.1 1353.67L1414.1 1357.47L1411.7 1359.73L1407.9 1359.73ZM1398.81 1364.51L1401.21 1362.25L1405.01 1362.25L1405.01 1366.05L1402.61 1368.31L1398.81 1368.31ZM1389.72 1373.1L1392.12 1370.83L1395.92 1370.83L1395.92 1374.63L1393.52 1376.9L1389.72 1376.9ZM1381.25 1381.1L1383.04 1379.41L1386.84 1379.41L1386.84 1383.21L1385.05 1384.9L1381.25 1384.9ZM1472.86 1310.18L1475.7 1308.5L1479.5 1308.5L1479.5 1312.3L1476.66 1313.98L1472.86 1313.98ZM1462.11 1316.56L1464.95 1314.88L1468.75 1314.88L1468.75 1318.68L1465.91 1320.36L1462.11 1320.36ZM1451.36 1322.93L1454.2 1321.25L1458 1321.25L1458 1325.05L1455.16 1326.73L1451.36 1326.73ZM1440.6 1329.31L1443.44 1327.63L1447.24 1327.63L1447.24 1331.43L1444.4 1333.11L1440.6 1333.11ZM1429.85 1335.68L1432.69 1334L1436.49 1334L1436.49 1337.8L1433.65 1339.48L1429.85 1339.48ZM1475.7 1308.5L1479.5 1308.5L1482.73 1309.17L1482.73 1312.97L1478.93 1312.97L1475.7 1312.3ZM1487.94 1311.04L1491.74 1311.04L1494.97 1311.71L1494.97 1315.51L1491.17 1315.51L1487.94 1314.84ZM1500.18 1313.58L1503.98 1313.58L1507.21 1314.25L1507.21 1318.05L1503.41 1318.05L1500.18 1317.38ZM1512.42 1316.12L1516.22 1316.12L1519.45 1316.79L1519.45 1320.59L1515.65 1320.59L1512.42 1319.92ZM1522.92 1318.3L1526.73 1318.3L1529.88 1319.27L1529.88 1323.07L1526.08 1323.07L1522.92 1322.1ZM1534.87 1321.97L1538.67 1321.97L1541.83 1322.94L1541.83 1326.74L1538.03 1326.74L1534.87 1325.77ZM1546.82 1325.64L1550.62 1325.64L1553.78 1326.61L1553.78 1330.41L1549.98 1330.41L1546.82 1329.44ZM1558.77 1329.31L1562.57 1329.31L1565.73 1330.28L1565.73 1334.08L1561.93 1334.08L1558.77 1333.11ZM1614.1 1327.87L1617.38 1327.5L1621.18 1327.5L1621.18 1331.3L1617.9 1331.67L1614.1 1331.67ZM1601.67 1329.26L1604.95 1328.89L1608.75 1328.89L1608.75 1332.69L1605.47 1333.06L1601.67 1333.06ZM1589.25 1330.66L1592.53 1330.29L1596.33 1330.29L1596.33 1334.09L1593.05 1334.46L1589.25 1334.46ZM1576.83 1332.05L1580.11 1331.68L1583.91 1331.68L1583.91 1335.48L1580.63 1335.85L1576.83 1335.85ZM1661.58 1308.12L1664.6 1306.8L1668.4 1306.8L1668.4 1310.6L1665.38 1311.92L1661.58 1311.92ZM1650.13 1313.14L1653.15 1311.82L1656.95 1311.82L1656.95 1315.62L1653.93 1316.94L1650.13 1316.94ZM1638.68 1318.16L1641.7 1316.84L1645.5 1316.84L1645.5 1320.64L1642.48 1321.96L1638.68 1321.96ZM1627.23 1323.18L1630.25 1321.85L1634.05 1321.85L1634.05 1325.65L1631.03 1326.98L1627.23 1326.98ZM1617.38 1327.5L1618.81 1326.87L1622.61 1326.87L1622.61 1330.67L1621.18 1331.3L1617.38 1331.3ZM1709.12 1275.69L1711.83 1273.8L1715.63 1273.8L1715.63 1277.6L1712.92 1279.49L1709.12 1279.49ZM1698.87 1282.85L1701.58 1280.96L1705.38 1280.96L1705.38 1284.76L1702.67 1286.65L1698.87 1286.65ZM1688.63 1290.01L1691.33 1288.12L1695.13 1288.12L1695.13 1291.92L1692.43 1293.81L1688.63 1293.81ZM1678.38 1297.17L1681.09 1295.28L1684.89 1295.28L1684.89 1299.08L1682.18 1300.97L1678.38 1300.97ZM1668.13 1304.33L1670.84 1302.44L1674.64 1302.44L1674.64 1306.24L1671.93 1308.13L1668.13 1308.13ZM1756.81 1225.12L1759.05 1222.7L1762.85 1222.7L1762.85 1226.5L1760.61 1228.92L1756.81 1228.92ZM1748.33 1234.3L1750.57 1231.88L1754.37 1231.88L1754.37 1235.68L1752.13 1238.1L1748.33 1238.1ZM1739.84 1243.48L1742.08 1241.06L1745.88 1241.06L1745.88 1244.86L1743.64 1247.28L1739.84 1247.28ZM1731.36 1252.66L1733.6 1250.24L1737.4 1250.24L1737.4 1254.04L1735.16 1256.46L1731.36 1256.46ZM1722.87 1261.84L1725.11 1259.42L1728.91 1259.42L1728.91 1263.22L1726.67 1265.64L1722.87 1265.64ZM1714.39 1271.02L1716.63 1268.6L1720.43 1268.6L1720.43 1272.4L1718.19 1274.82L1714.39 1274.82ZM1803.8 1183.09L1806.28 1180.9L1810.08 1180.9L1810.08 1184.7L1807.6 1186.89L1803.8 1186.89ZM1794.44 1191.37L1796.91 1189.18L1800.71 1189.18L1800.71 1192.98L1798.24 1195.17L1794.44 1195.17ZM1785.08 1199.66L1787.55 1197.47L1791.35 1197.47L1791.35 1201.27L1788.88 1203.46L1785.08 1203.46ZM1775.72 1207.94L1778.19 1205.75L1781.99 1205.75L1781.99 1209.55L1779.52 1211.74L1775.72 1211.74ZM1766.36 1216.23L1768.83 1214.04L1772.63 1214.04L1772.63 1217.84L1770.16 1220.03L1766.36 1220.03ZM1759.05 1222.7L1759.47 1222.32L1763.27 1222.32L1763.27 1226.12L1762.85 1226.5L1759.05 1226.5ZM1850.67 1154.3L1853.5 1152.6L1857.3 1152.6L1857.3 1156.4L1854.47 1158.1L1850.67 1158.1ZM1839.95 1160.72L1842.78 1159.03L1846.58 1159.03L1846.58 1162.83L1843.75 1164.52L1839.95 1164.52ZM1829.23 1167.15L1832.06 1165.45L1835.86 1165.45L1835.86 1169.25L1833.03 1170.95L1829.23 1170.95ZM1818.5 1173.57L1821.33 1171.88L1825.13 1171.88L1825.13 1175.68L1822.3 1177.37L1818.5 1177.37ZM1807.78 1180L1810.61 1178.3L1814.41 1178.3L1814.41 1182.1L1811.58 1183.8L1807.78 1183.8ZM1897.87 1126.76L1900.72 1125.1L1904.53 1125.1L1904.53 1128.9L1901.67 1130.56L1897.87 1130.56ZM1887.07 1133.05L1889.92 1131.39L1893.72 1131.39L1893.72 1135.19L1890.87 1136.85L1887.07 1136.85ZM1876.27 1139.34L1879.12 1137.68L1882.92 1137.68L1882.92 1141.48L1880.07 1143.14L1876.27 1143.14ZM1865.47 1145.63L1868.32 1143.97L1872.12 1143.97L1872.12 1147.77L1869.27 1149.43L1865.47 1149.43ZM1854.67 1151.92L1857.52 1150.26L1861.32 1150.26L1861.32 1154.06L1858.47 1155.72L1854.67 1155.72ZM1945.42 1087.52L1947.95 1085.4L1951.75 1085.4L1951.75 1089.2L1949.22 1091.32L1945.42 1091.32ZM1935.86 1095.57L1938.38 1093.44L1942.18 1093.44L1942.18 1097.24L1939.66 1099.37L1935.86 1099.37ZM1926.29 1103.61L1928.81 1101.49L1932.61 1101.49L1932.61 1105.29L1930.09 1107.41L1926.29 1107.41ZM1916.72 1111.65L1919.25 1109.53L1923.05 1109.53L1923.05 1113.33L1920.52 1115.45L1916.72 1115.45ZM1907.15 1119.7L1909.68 1117.57L1913.48 1117.57L1913.48 1121.37L1910.95 1123.5L1907.15 1123.5ZM1992.74 1044.33L1995.17 1042.1L1998.98 1042.1L1998.98 1045.9L1996.54 1048.13L1992.74 1048.13ZM1983.53 1052.78L1985.96 1050.55L1989.76 1050.55L1989.76 1054.35L1987.33 1056.58L1983.53 1056.58ZM1974.32 1061.23L1976.75 1059L1980.55 1059L1980.55 1062.8L1978.12 1065.03L1974.32 1065.03ZM1965.1 1069.67L1967.53 1067.44L1971.33 1067.44L1971.33 1071.24L1968.9 1073.47L1965.1 1073.47ZM1955.89 1078.12L1958.32 1075.89L1962.12 1075.89L1962.12 1079.69L1959.69 1081.92L1955.89 1081.92ZM1947.95 1085.4L1949.11 1084.34L1952.91 1084.34L1952.91 1088.14L1951.75 1089.2L1947.95 1089.2Z"/>
</g>
<g stroke-width="4" shape-rendering="crispEdges">
<line x1="2087" y1="320" x2="2170" y2="320" stroke="#e8b653"/>
<line x1="2087" y1="640" x2="2170" y2="640" stroke="#e8b653" stroke-dasharray="5 5"/>
<line x1="2087" y1="960" x2="2170" y2="960" stroke="#ba3727"/>
<line x1="2087" y1="1280" x2="2170" y2="1280" stroke="#ba3727" stroke-dasharray="5 5"/>
</g>
<text transform="translate(2187.1 338.6) scale(0.993 1.05)" font-size="65.2">Data (H1)</text>
<text transform="translate(2186.2 657.8) scale(0.993 1.05)" font-size="65.2">Noise (H1)</text>
<text transform="translate(2187.1 978.6) scale(0.993 1.05)" font-size="65.2">Data (L1)</text>
<text transform="translate(2186.2 1297.8) scale(0.993 1.05)" font-size="65.2">Noise (L1)</text>
<text transform="translate(903 72.8)" font-size="73">Amplitude variance</text>
<text transform="translate(106.8 158.5) rotate(-90)" font-size="51.8" text-anchor="end">Amplitude variance</text>
<text transform="translate(2046 1542.7)" font-size="51.8" text-anchor="end">Frequency [Hz]</text>
<g style="filter:opacity(1)">
<text transform="translate(160 578.1) scale(1.0 1.03)" font-size="51">10<tspan font-size="33.2" dx="-2" dy="-18.5">−</tspan><tspan font-size="33.2" dy="-3.9">46</tspan></text>
</g>
<g style="filter:opacity(1)">
<text transform="translate(160 1150.0) scale(1.0 1.03)" font-size="51">10<tspan font-size="33.2" dx="-2" dy="-18.5">−</tspan><tspan font-size="33.2" dy="-3.9">47</tspan></text>
</g>
<g style="filter:opacity(1)">
<text transform="translate(626.5 1512.1) scale(1.0 1.03)" font-size="51">10<tspan font-size="33.2" dx="-1.2" dy="-22.4">2</tspan></text>
</g>
<g style="filter:opacity(1)">
<text transform="translate(1765.8 1512.1) scale(1.0 1.03)" font-size="51">10<tspan font-size="33.2" dx="-1.2" dy="-22.4">3</tspan></text>
</g>
</svg></body></html>
